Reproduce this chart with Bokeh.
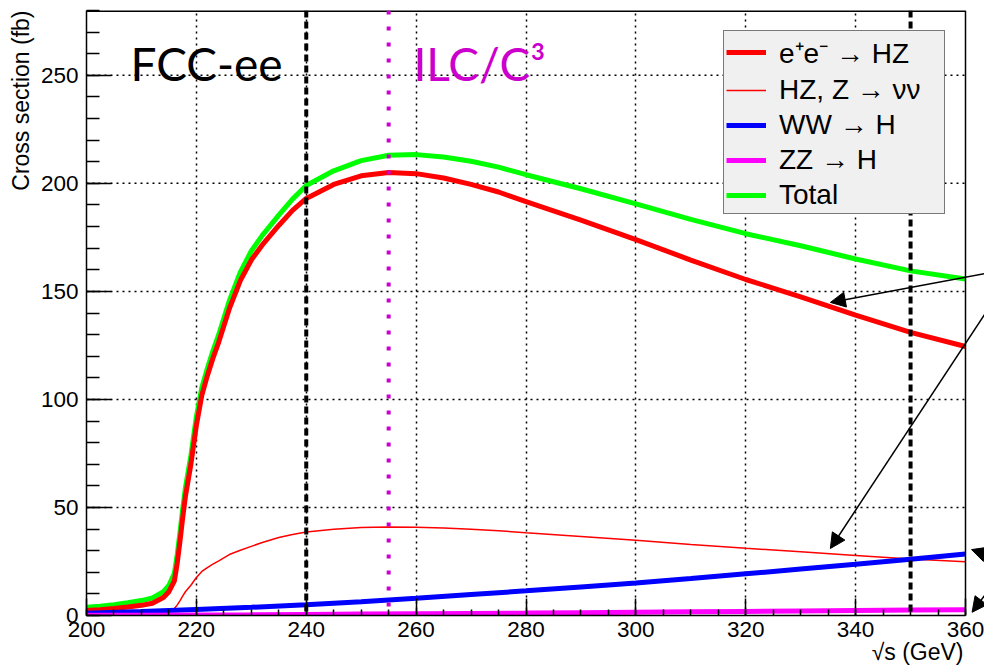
from bokeh.plotting import figure
from bokeh.models import (Range1d, FixedTicker, Span, Label, Arrow, NormalHead,
                          Legend, LegendItem, Title)
from bokeh.embed import file_html
from bokeh.resources import INLINE

# ---------------- data ----------------
energy = [200, 202.5, 205, 207.5, 210, 212, 214, 215, 216, 216.5,
          217, 217.5, 218, 219, 220, 221, 222, 223, 224, 226,
          228, 230, 232, 235, 237.5, 240, 245, 250, 255, 260,
          265, 270, 275, 280, 290, 300, 310, 320, 330, 340,
          350, 360]
xsec_hz = [2.3, 2.7, 3.2, 3.9, 4.7, 5.7, 8.3, 11, 16, 24,
           34, 45, 55, 70, 88, 102, 111, 119, 126, 142,
           155, 164.5, 171.5, 180.5, 187.5, 193, 199.5, 203.5, 205, 204.5,
           202.5, 199.5, 196, 191.5, 183, 174, 164.5, 155.5, 147.5, 139,
           131, 124.5]
xsec_hz_nunu = [0.46, 0.54, 0.64, 0.78, 0.94, 1.14, 1.66, 2.2, 3.2, 4.8,
                6.8, 9.0, 11, 14, 17.6, 20.4, 22.2, 23.8, 25.2, 28.2,
                30.2, 32.0, 33.8, 36.1, 37.5, 38.6, 39.9, 40.7, 41, 40.9,
                40.5, 39.9, 39.2, 38.3, 36.6, 34.8, 32.9, 31.1, 29.5, 27.8,
                26.2, 24.9]
xsec_total = [3.8, 4.3, 5.0, 5.9, 6.9, 8.1, 11, 14, 19.5, 28,
              38, 49, 59, 74, 92, 105.5, 114.3, 122.4, 129.5, 145.7,
              158.9, 168.7, 175.9, 185.3, 192.7, 199, 205.8, 210.5, 213, 213.3,
              212.2, 210.2, 207.5, 204, 197.5, 190.5, 183.3, 176.7, 171.1, 165,
              159.5, 155.7]
fusion_energy = [200, 210, 220, 230, 240, 250, 260, 270, 280, 290,
                 300, 310, 320, 330, 340, 350, 360]
xsec_ww = [1.0, 1.8, 2.8, 3.8, 5.0, 6.4, 8.0, 9.7, 11.4, 13.2,
           15.0, 17.1, 19.3, 21.5, 23.7, 26.0, 28.5]
xsec_zz = [0.1, 0.15, 0.25, 0.35, 0.5, 0.65, 0.8, 0.95, 1.1, 1.3,
           1.5, 1.7, 1.9, 2.1, 2.3, 2.5, 2.7]

fcc_energies = [240, 350]
ilc_energy = 255

x_major = [200, 220, 240, 260, 280, 300, 320, 340, 360]
x_minor = [e for e in range(200, 361, 5)]
y_major = [0, 50, 100, 150, 200, 250]
y_minor = [v for v in range(0, 281, 10)]
x_grid = [220, 240, 260, 280, 300, 320, 340]
y_grid = [50, 100, 150, 200, 250]
y_top = 280

labels = ["e\u207ae\u207b \u2192 HZ", "HZ, Z \u2192 \u03bd\u03bd",
          "WW \u2192 H", "ZZ \u2192 H", "Total"]
x_title = "\u221as (GeV)"
y_title = "Cross section (fb)"

# ---------------- figure ----------------
FONT = "Liberation Sans"
# frame runs to the right edge of the page so that the arrows reaching
# beyond the axes box stay visible; the box itself is drawn at 360 GeV
x_end = x_major[-1] + 19 * 160 / 879
p = figure(width=984, height=671, x_range=Range1d(200, x_end), y_range=Range1d(0, y_top),
           output_backend="svg", toolbar_location=None,
           min_border_left=86, min_border_right=0, min_border_top=10, min_border_bottom=56,
           background_fill_color="white", border_fill_color="white")
p.outline_line_color = None

for ax, ticks, minors, tin, mtin, stand in (
        (p.xaxis, x_major, x_minor, 17, 6, 6),
        (p.yaxis, y_major, y_minor, 25, 13, 8)):
    ax.ticker = FixedTicker(ticks=ticks, minor_ticks=minors)
    ax.major_tick_in = tin
    ax.major_tick_out = 0
    ax.minor_tick_in = mtin
    ax.minor_tick_out = 0
    ax.major_tick_line_width = 1.5
    ax.minor_tick_line_width = 1.5
    ax.major_tick_line_color = "black"
    ax.minor_tick_line_color = "black"
    ax.axis_line_color = "black"
    ax.axis_line_width = 1.5
    ax.major_label_text_font = FONT
    ax.major_label_text_font_size = "22.5px"
    ax.major_label_text_color = "black"
    ax.major_label_standoff = stand

p.xaxis.bounds = (x_major[0], x_major[-1])

# axis titles, right/top aligned as in ROOT
p.add_layout(Title(text=y_title, align="right", offset=0, standoff=8,
                   text_font=FONT, text_font_size="23px", text_font_style="normal",
                   text_color="black"), "left")
p.add_layout(Title(text=x_title, align="right", vertical_align="top", offset=21,
                   standoff=-2, text_font=FONT, text_font_size="23px",
                   text_font_style="normal", text_color="black"), "below")

p.xgrid.ticker = FixedTicker(ticks=x_grid)
p.xgrid.grid_line_color = "black"
p.xgrid.grid_line_dash = "2 4"
p.xgrid.grid_line_width = 1.5
p.ygrid.visible = False
p.segment(x0=[x_major[0]] * len(y_grid), y0=y_grid,
          x1=[x_major[-1]] * len(y_grid), y1=y_grid,
          line_color="black", line_dash="2 4", line_width=1.5, level="underlay")

# axes box: top and right sides
p.segment(x0=[x_major[0]], y0=[y_top], x1=[x_major[-1]], y1=[y_top],
          line_color="black", line_width=3)
p.add_layout(Span(location=x_major[-1], dimension="height", line_color="black",
                  line_width=1.5))

# curves
r_tot = p.line(energy, xsec_total, line_color="#00ff00", line_width=5)
r_hz = p.line(energy, xsec_hz, line_color="#ff0000", line_width=5)
r_nn = p.line(energy, xsec_hz_nunu, line_color="#ff0000", line_width=1.5)
r_ww = p.line(fusion_energy, xsec_ww, line_color="#0000ff", line_width=5)
r_zz = p.line(fusion_energy, xsec_zz, line_color="#ff00ff", line_width=5)

# vertical markers
for e in fcc_energies:
    p.add_layout(Span(location=e, dimension="height", line_color="black",
                      line_width=4, line_dash="7 4"))
p.add_layout(Span(location=ilc_energy, dimension="height", line_color="#cc00cc",
                  line_width=4, line_dash="4 12"))

# texts
p.add_layout(Label(x=208.0, y=255.6, text="FCC-ee", text_font="Lato",
                   text_font_size="46px", text_color="black",
                   text_baseline="alphabetic", text_align="left"))
p.add_layout(Label(x=259.5, y=255.6, text="ILC/C\u00b3", text_font="Lato",
                   text_font_size="46px", text_color="#cc00cc",
                   text_baseline="alphabetic", text_align="left"))

# arrows
arrows = [((364.6, 158.8), (335.4, 144.9)),
          ((365.6, 147.5), (335.4, 31.0)),
          ((368.2, 24.5), (361.1, 30.5)),
          ((366.2, 18.5), (361.2, 1.5))]
for (xs, ys), (xe, ye) in arrows:
    p.add_layout(Arrow(x_start=xs, y_start=ys, x_end=xe, y_end=ye,
                       line_color="black", line_width=1.5,
                       end=NormalHead(size=15, fill_color="black", line_color="black",
                                      line_width=1)))

# legend
legend = Legend(items=[LegendItem(label=labels[0], renderers=[r_hz]),
                       LegendItem(label=labels[1], renderers=[r_nn]),
                       LegendItem(label=labels[2], renderers=[r_ww]),
                       LegendItem(label=labels[3], renderers=[r_zz]),
                       LegendItem(label=labels[4], renderers=[r_tot])],
                location=(637, 401), margin=0, padding=2, spacing=3,
                glyph_width=40, glyph_height=28, label_height=28, label_width=163,
                label_standoff=13, label_text_font=FONT, label_text_font_size="28px",
                label_text_color="black", background_fill_color="#f0f0f0",
                background_fill_alpha=1.0, border_line_color="black",
                border_line_width=1.5)
p.add_layout(legend)

open("out.html", "w").write(file_html(p, INLINE))
